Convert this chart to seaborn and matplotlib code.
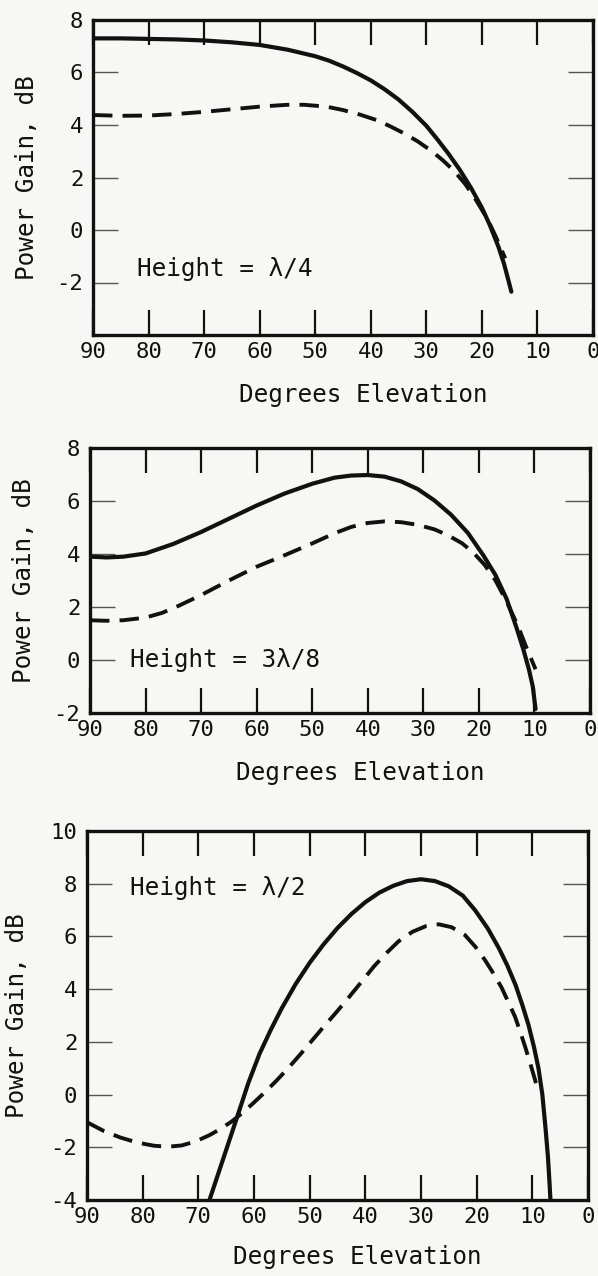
import seaborn as sns
import matplotlib.pyplot as plt
import numpy as np

# panel 1 : height = lambda/4
p1_solid_deg = [90, 85, 80, 75, 70, 65, 60, 55, 50, 47.5, 45, 42.5, 40, 37.5, 35, 32.5, 30, 28, 26, 24, 22, 20, 18.6, 17, 16, 15, 14.7]
p1_solid_db = [7.3, 7.3, 7.28, 7.26, 7.22, 7.15, 7.05, 6.87, 6.62, 6.45, 6.23, 5.98, 5.7, 5.36, 4.97, 4.5, 3.97, 3.45, 2.9, 2.3, 1.62, 0.85, 0.2, -0.65, -1.3, -2.1, -2.35]
p1_dash_deg = [90, 85, 80, 75, 70, 65, 60, 55, 52, 48, 45, 42, 39, 36.5, 34, 31.5, 29, 27, 25, 23, 21, 19, 17.5, 16, 15.8]
p1_dash_db = [4.38, 4.35, 4.36, 4.42, 4.5, 4.6, 4.7, 4.77, 4.77, 4.7, 4.57, 4.4, 4.19, 3.95, 3.68, 3.37, 3.0, 2.65, 2.25, 1.75, 1.12, 0.42, -0.25, -0.98, -1.08]

# panel 2 : height = 3 lambda/8
p2_solid_deg = [90, 87, 84, 80, 75, 70, 65, 60, 55, 50, 46, 43, 40, 37, 34, 31, 28, 25, 22, 19.2, 17, 15, 13.2, 12, 11, 10.3, 9.8]
p2_solid_db = [3.9, 3.87, 3.9, 4.02, 4.38, 4.83, 5.33, 5.83, 6.28, 6.65, 6.88, 6.96, 6.98, 6.92, 6.74, 6.45, 6.02, 5.48, 4.8, 3.95, 3.2, 2.3, 1.2, 0.4, -0.35, -1.0, -1.85]
p2_dash_deg = [90, 87, 84, 80, 77, 74, 70, 65, 60, 55, 50, 46, 43, 40, 37, 34, 31, 28, 25.5, 23, 21, 19, 17, 15, 13, 11.5, 10.2, 9.8]
p2_dash_db = [1.5, 1.48, 1.5, 1.6, 1.78, 2.05, 2.45, 3.0, 3.52, 3.95, 4.4, 4.78, 5.02, 5.17, 5.23, 5.2, 5.1, 4.93, 4.7, 4.4, 4.05, 3.6, 3.0, 2.2, 1.3, 0.5, -0.15, -0.35]

# panel 3 : height = lambda/2
p3_solid_deg = [68, 66.5, 65, 63.2, 61, 59, 57, 55, 52.5, 50, 47.5, 45, 42.5, 40, 37.5, 35, 32.5, 30, 27.5, 25, 22.5, 20.3, 18, 16, 14.5, 13, 11.8, 10.7, 9.7, 8.9, 8.2, 7.6, 7.2, 6.9, 6.75]
p3_solid_db = [-4.0, -3.05, -2.1, -0.96, 0.45, 1.55, 2.45, 3.28, 4.2, 5.0, 5.7, 6.32, 6.85, 7.3, 7.66, 7.92, 8.1, 8.17, 8.1, 7.9, 7.55, 7.0, 6.3, 5.55, 4.9, 4.15, 3.4, 2.65, 1.8, 1.0, 0.0, -1.35, -2.35, -3.4, -4.0]
p3_dash_deg = [90, 87, 84, 81, 78, 75.5, 73, 70.5, 68, 66, 64, 62, 60, 58, 56, 53.7, 51.5, 49.5, 47.5, 45.3, 43, 40.6, 38.5, 36.4, 34, 31.5, 29, 26.8, 24.5, 22.1, 20.2, 18.5, 17, 15.5, 14.3, 13.1, 12.2, 11.3, 10.4, 9.5, 9.2]
p3_dash_db = [-1.05, -1.38, -1.63, -1.82, -1.94, -1.98, -1.93, -1.78, -1.54, -1.3, -1.02, -0.68, -0.3, 0.1, 0.52, 1.04, 1.57, 2.07, 2.57, 3.1, 3.68, 4.3, 4.85, 5.33, 5.82, 6.18, 6.4, 6.46, 6.35, 6.05, 5.6, 5.1, 4.6, 4.05, 3.5, 2.95, 2.4, 1.82, 1.2, 0.55, 0.3]

x_ticks = [90, 80, 70, 60, 50, 40, 30, 20, 10, 0]
panels = [
    dict(solid=(p1_solid_deg, p1_solid_db), dash=(p1_dash_deg, p1_dash_db),
         ylim=(-4, 8), yticks=[-2, 0, 2, 4, 6, 8], label='Height = λ/4', label_xy=(82, -1.5),
         rect=[93/598, 1 - 335/1276, 500/598, 315/1276], xlab_y=-0.152, ylab_x=-0.108),
    dict(solid=(p2_solid_deg, p2_solid_db), dash=(p2_dash_deg, p2_dash_db),
         ylim=(-2, 8), yticks=[-2, 0, 2, 4, 6, 8], label='Height = 3λ/8', label_xy=(82.8, 0.0),
         rect=[90/598, 1 - 713/1276, 500/598, 265/1276], xlab_y=-0.181, ylab_x=-0.108),
    dict(solid=(p3_solid_deg, p3_solid_db), dash=(p3_dash_deg, p3_dash_db),
         ylim=(-4, 10), yticks=[-4, -2, 0, 2, 4, 6, 8, 10], label='Height = λ/2', label_xy=(82.3, 7.84),
         rect=[87/598, 1 - 1200/1276, 501/598, 369/1276], xlab_y=-0.122, ylab_x=-0.115),
]

sns.set_style('ticks')
plt.rcParams['font.family'] = ['DejaVu Sans Mono', 'DejaVu Sans']
plt.rcParams['axes.unicode_minus'] = False
bg = '#f7f7f5'
ink = '#111111'

fig = plt.figure(figsize=(5.98, 12.76), dpi=100, facecolor=bg)

for p in panels:
    ax = fig.add_axes(p['rect'])
    ax.set_facecolor(bg)

    sns.lineplot(x=p['solid'][0], y=p['solid'][1], ax=ax, color=ink, lw=3.0,
                 estimator=None, sort=False)
    sns.lineplot(x=p['dash'][0], y=p['dash'][1], ax=ax, color=ink, lw=2.8,
                 linestyle=(0, (5, 2.6)), estimator=None, sort=False)

    ax.set_xlim(90, 0)
    ax.set_ylim(*p['ylim'])
    ax.set_xticks(x_ticks)
    ax.set_yticks(p['yticks'])

    for s in ax.spines.values():
        s.set_linewidth(2.4)
        s.set_color(ink)
        s.set_visible(True)

    ax.tick_params(axis='x', direction='in', length=18, width=1.6, color=ink,
                   top=True, bottom=True, labelsize=16, pad=5, labelcolor=ink)
    ax.tick_params(axis='y', direction='in', length=18, width=1.0, color='#555555',
                   left=True, right=True, labelsize=16, pad=7, labelcolor=ink)

    ax.set_xlabel('Degrees Elevation', fontsize=17.5, color=ink)
    ax.set_ylabel('Power Gain, dB', fontsize=17.5, color=ink)
    ax.xaxis.set_label_coords(0.54, p['xlab_y'])
    ax.xaxis.label.set_va('top')
    ax.yaxis.set_label_coords(p['ylab_x'], 0.5)

    ax.text(p['label_xy'][0], p['label_xy'][1], p['label'], fontsize=17.5,
            color=ink, ha='left', va='center')

plt.savefig('out.png', dpi=100, facecolor=bg)
